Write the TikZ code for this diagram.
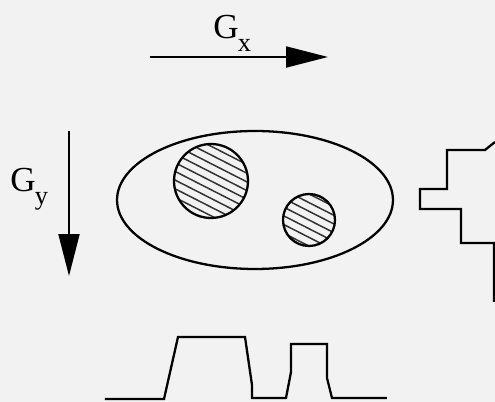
\documentclass[tikz,border=0pt]{standalone}
\usepackage{fontspec}
\setmainfont{Liberation Serif}
\usetikzlibrary{arrows.meta,shapes.geometric}

\newcommand{\gradlab}[1]{G\kern-0.5pt\raisebox{-7pt}{\fontsize{15}{15}\selectfont #1}}

\begin{document}
\begin{tikzpicture}[
  x=0.02cm, y=-0.02cm,
  lab/.style={font=\fontsize{20}{24}\selectfont, inner sep=0pt, anchor=base west},
  grad/.style={-{Triangle[length=8.4mm,width=4.2mm]}, line width=1.1pt},
  body/.style={ellipse, draw, line width=1.3pt, minimum width=5.52cm, minimum height=2.76cm, inner sep=0pt},
  blob/.style={circle, draw, line width=1.3pt, inner sep=0pt,
               path picture={\foreach \k in {-6,...,6}
                 \draw[line width=0.85pt, black!80] (path picture bounding box.center) ++(63:\k*0.155cm)
                   ++(153:1.2cm) -- ++(-27:2.4cm);}},
  prof/.style={line width=1.3pt, line join=miter},
]
\fill[black!5] (0,0) rectangle (495,402);
\useasboundingbox (0,0) rectangle (495,402);
% gradient directions
\coordinate (gxs) at (150,57); \coordinate (gxe) at (328,57);
\coordinate (gys) at (69,131); \coordinate (gye) at (69,276);
\draw[grad] (gxs) -- (gxe);
\draw[grad] (gys) -- (gye);
\node[lab] (gx) at (213,39) {\gradlab{x}};
\node[lab] (gy) at (10,192) {\gradlab{y}};
% object
\node[body] (obj) at (255,200) {};
\node[blob, minimum size=1.48cm] (big) at (211,181) {};
\node[blob, minimum size=1.04cm] (small) at (309,220) {};
% projections
\draw[prof] (105,399) -- (164,399) -- (178,337) -- (245,337) -- (252,385) -- (252,398)
  -- (286,398) -- (291,372) -- (291,344) -- (327,344) -- (327,378) -- (332,398) -- (387,398);
\draw[prof] (495,142) -- (485,150) -- (447,150) -- (447,189) -- (420,189) -- (420,209)
  -- (461,209) -- (461,243) -- (494,243) -- (494,302);
\end{tikzpicture}
\end{document}
